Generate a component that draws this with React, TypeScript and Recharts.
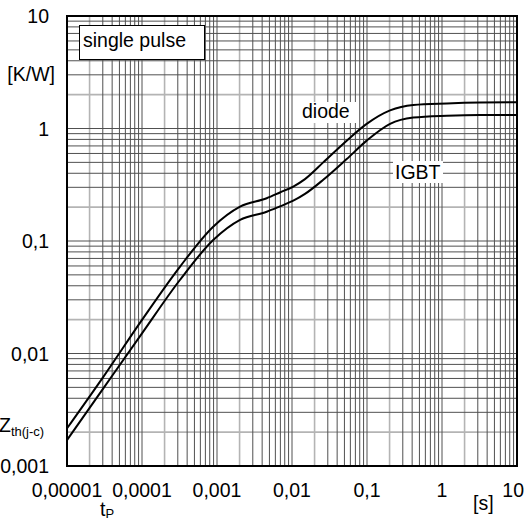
import React from "react";
import { LineChart, Line, XAxis, YAxis, CartesianGrid, ReferenceArea } from "recharts";

// Tick values and labels
const xTicks = [1e-5, 1e-4, 1e-3, 1e-2, 1e-1, 1, 10];
const xTickLabels = ["0,00001", "0,0001", "0,001", "0,01", "0,1", "1", "10"];
const yTicks = [0.001, 0.01, 0.1, 1, 10];
const yTickLabels = ["0,001", "0,01", "0,1", "1", "10"];

// Diode curve (upper)
const diodeT = [1e-5, 3.05e-5, 1e-4, 3.2e-4, 8.9e-4, 2.03e-3, 4.6e-3, 6.9e-3, 1.04e-2, 1.49e-2, 2.61e-2, 5.36e-2, 0.099, 0.203, 0.414, 1.16, 3.21, 10];
const diodeZ = [0.00216, 0.0062, 0.0199, 0.059, 0.134, 0.202, 0.24, 0.27, 0.305, 0.355, 0.5, 0.78, 1.1, 1.45, 1.62, 1.67, 1.7, 1.71];

// IGBT curve (lower)
const igbtT = [1e-5, 3.05e-5, 1e-4, 3.2e-4, 8.9e-4, 2.03e-3, 4.6e-3, 6.9e-3, 1.04e-2, 1.49e-2, 2.61e-2, 5.36e-2, 0.099, 0.203, 0.414, 1.16, 3.21, 10];
const igbtZ = [0.0017, 0.0049, 0.0151, 0.045, 0.102, 0.154, 0.182, 0.203, 0.228, 0.262, 0.35, 0.535, 0.78, 1.1, 1.25, 1.3, 1.32, 1.32];

// Grid construction (decades x multipliers)
const xDecades = [1e-5, 1e-4, 1e-3, 1e-2, 1e-1, 1];
const yDecades = [1e-3, 1e-2, 1e-1, 1];
const multipliers = [1, 2, 3, 4, 5, 6, 7, 8, 9];
const grayMultipliers = [2];

const FONT = "'Liberation Sans', Arial, Helvetica, sans-serif";

const mk = (d: number, k: number) => Number((d * k).toPrecision(6));
const xGridDark: number[] = [];
const xGridGray: number[] = [];
xDecades.forEach((d) =>
  multipliers.forEach((k) => {
    const v = mk(d, k);
    if (v <= 1e-5) return;
    (grayMultipliers.includes(k) ? xGridGray : xGridDark).push(v);
  })
);
const yGridDark: number[] = [];
const yGridGray: number[] = [];
yDecades.forEach((d) =>
  multipliers.forEach((k) => {
    const v = mk(d, k);
    if (v <= 1e-3) return;
    (grayMultipliers.includes(k) ? yGridGray : yGridDark).push(v);
  })
);

const diodeData = diodeT.map((t, i) => ({ t, z: diodeZ[i] }));
const igbtData = igbtT.map((t, i) => ({ t, z: igbtZ[i] }));

const closestIndex = (arr: number[], v: number) => {
  let best = 0;
  arr.forEach((a, i) => {
    if (Math.abs(Math.log10(a) - Math.log10(v)) < Math.abs(Math.log10(arr[best]) - Math.log10(v))) best = i;
  });
  return best;
};

const XTick = (props: any) => {
  const { x, payload } = props;
  const i = closestIndex(xTicks, payload.value);
  const last = i === xTicks.length - 1;
  return (
    <text x={last ? x + 7 : x} y={497} textAnchor={last ? "end" : "middle"} fontFamily={FONT} fontSize={19.5} fill="#000">
      {xTickLabels[i]}
    </text>
  );
};

const YTick = (props: any) => {
  const { y, payload } = props;
  const i = closestIndex(yTicks, payload.value);
  return (
    <text x={49} y={y + 7} textAnchor="end" fontFamily={FONT} fontSize={19.5} fill="#000">
      {yTickLabels[i]}
    </text>
  );
};

export default function App() {
  return (
    <div style={{ position: "absolute", left: 0, top: 0, width: 529, height: 522, background: "#fff" }}>
      <LineChart width={529} height={522} margin={{ top: 16, right: 12, bottom: 0, left: 0 }}>
        <CartesianGrid
          verticalValues={xGridGray}
          horizontalValues={yGridGray}
          stroke="#b4b4b4"
          strokeWidth={1.6}
        />
        <CartesianGrid
          verticalValues={xGridDark}
          horizontalValues={yGridDark}
          stroke="#505050"
          strokeWidth={1}
        />
        <XAxis
          dataKey="t"
          type="number"
          scale="log"
          domain={[1e-5, 10]}
          ticks={xTicks}
          allowDataOverflow
          axisLine={false}
          tickLine={false}
          height={56}
          tick={XTick}
          interval={0}
        />
        <YAxis
          dataKey="z"
          type="number"
          scale="log"
          domain={[0.001, 10]}
          ticks={yTicks}
          allowDataOverflow
          axisLine={false}
          tickLine={false}
          width={67}
          tick={YTick}
          interval={0}
        />
        <Line data={diodeData} dataKey="z" type="monotone" stroke="#000" strokeWidth={2} dot={false} isAnimationActive={false} />
        <Line data={igbtData} dataKey="z" type="monotone" stroke="#000" strokeWidth={2} dot={false} isAnimationActive={false} />
        <ReferenceArea x1={1e-5} x2={10} y1={0.001} y2={10} fill="none" fillOpacity={0} stroke="#000" strokeWidth={2} ifOverflow="visible" />
      </LineChart>
      <svg width={529} height={522} style={{ position: "absolute", left: 0, top: 0, pointerEvents: "none" }}>
        <g fontFamily={FONT} fill="#000">
          <rect x={79.5} y={25.5} width={125} height={34} fill="#fff" stroke="#000" strokeWidth={1} />
          <text x={83} y={47} fontSize={19.5}>single pulse</text>
          <rect x={300} y={102} width={57} height={21} fill="#fff" />
          <text x={302} y={118} fontSize={19.5}>diode</text>
          <rect x={393} y={161} width={50} height={22} fill="#fff" />
          <text x={395} y={179} fontSize={19.5}>IGBT</text>
          <text x={55} y={81} fontSize={19.5} textAnchor="end">[K/W]</text>
          <text x={-1} y={432} fontSize={19.5}>
            Z<tspan fontSize={13} dy={4}>th(j-c)</tspan>
          </text>
          <text x={100} y={516} fontSize={19.5}>
            t<tspan fontSize={13} dy={2}>P</tspan>
          </text>
          <text x={473} y={510} fontSize={19.5}>[s]</text>
        </g>
      </svg>
    </div>
  );
}
